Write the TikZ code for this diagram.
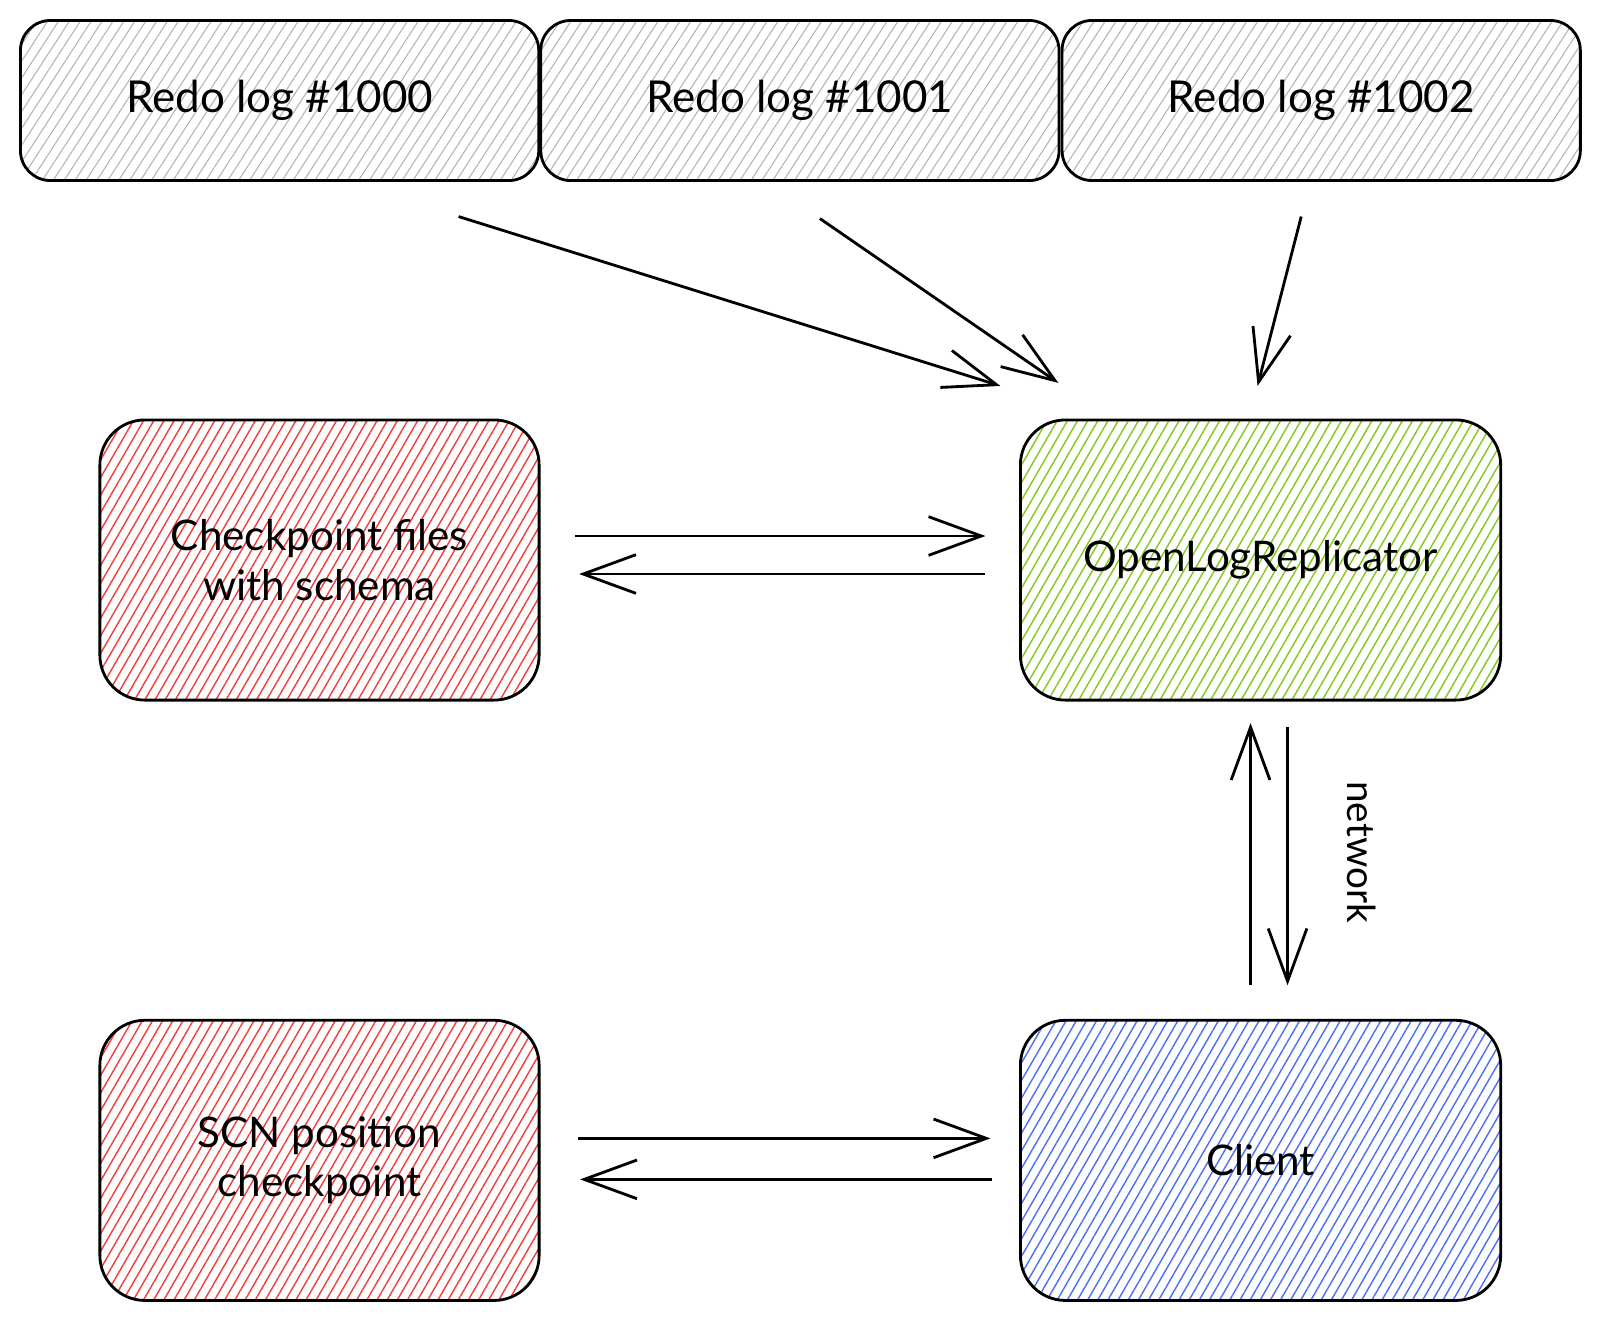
\documentclass[tikz,border=0pt]{standalone}
\usepackage{fontspec}
\setmainfont{Lato}
\usetikzlibrary{positioning, calc, arrows.meta, patterns.meta}

\definecolor{hatchgray}{HTML}{ADB5BD}
\definecolor{hatchred}{HTML}{F03E3E}
\definecolor{hatchgreen}{HTML}{82C91E}
\definecolor{hatchblue}{HTML}{4C6EF5}

\begin{document}
\begin{tikzpicture}[x=0.01cm, y=-0.01cm, >={Straight Barb[length=15pt, width=11pt]},
			line width=0.8pt, node distance=3.2cm,
			logbox/.style={draw, rounded corners=0.3cm, outer sep=0pt,
				minimum width=5.18cm, minimum height=1.6cm,
				pattern={Lines[angle=57, distance=2.6pt, line width=0.3pt]},
				pattern color=hatchgray, font=\fontsize{12.5}{15}\selectfont},
			hatchbox/.style={draw, rounded corners=0.45cm, outer sep=0pt,
				minimum height=2.8cm, align=center,
				pattern={Lines[angle=60, distance=2.5pt, line width=0.4pt]},
				pattern color=#1, font=\fontsize{12}{14}\selectfont}]
		\fill[white] (0, 0) rectangle (1600, 1320);
		\useasboundingbox (0, 0) rectangle (1600, 1320);

		\node[logbox] (redoA) at (279.6, 100.5) {Redo log \#1000};
		\node[logbox, right=0.02cm of redoA] (redoB) {Redo log \#1001};
		\node[logbox, right=0.03cm of redoB] (redoC) {Redo log \#1002};

		\node[hatchbox=hatchred, minimum width=4.39cm] (ckpt) at (319.5, 560)
			{Checkpoint files\\with schema};
		\node[hatchbox=hatchgreen, minimum width=4.8cm, right=4.81cm of ckpt] (olr)
			{OpenLogReplicator};
		\node[hatchbox=hatchred, minimum width=4.39cm, below=of ckpt] (scn)
			{SCN position\\checkpoint};
		\node[hatchbox=hatchblue, minimum width=4.8cm, below=of olr] (client)
			{Client};
		\node[rotate=-90, font=\fontsize{11}{13}\selectfont] (net) at (1362, 852) {network};

		\draw[->] ($(redoA.south)+(179, 36)$) -- ($(olr.north west)+(-20, -34)$);
		\draw[->] ($(redoB.south)+(20, 38)$) -- ($(olr.north west)+(38, -37)$);
		\draw[->] ($(redoC.south)+(-20, 36)$) -- ($(olr.north)+(-3, -34)$);

		\draw[->] ($(ckpt.east)+(36, -24)$) -- ($(olr.west)+(-35, -24)$);
		\draw[->] ($(olr.west)+(-35, 14)$) -- ($(ckpt.east)+(40, 14)$);

		\draw[->] ($(client.north)+(-10, -35)$) -- ($(olr.south)+(-10, 23)$);
		\draw[->] ($(olr.south)+(27, 27)$) -- ($(client.north)+(27, -35)$);

		\draw[->] ($(scn.east)+(39, -22)$) -- ($(client.west)+(-30, -22)$);
		\draw[->] ($(client.west)+(-28, 19)$) -- ($(scn.east)+(41, 19)$);
	\end{tikzpicture}
\end{document}
